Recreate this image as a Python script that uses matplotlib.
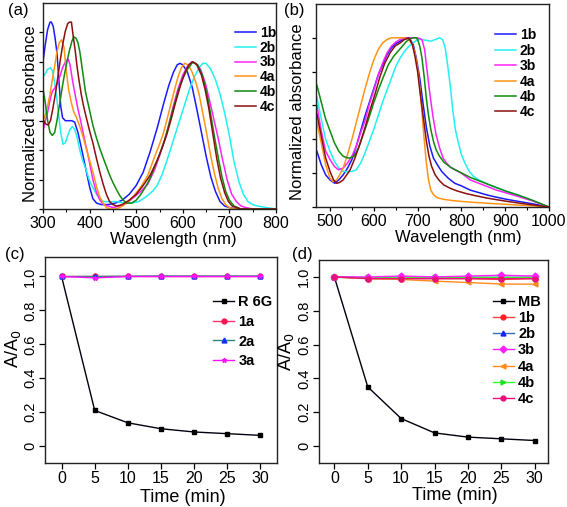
import matplotlib
matplotlib.use("Agg")
import matplotlib.pyplot as plt

plt.rcParams['font.family'] = ['Liberation Sans', 'DejaVu Sans']

# ---------------- Panel (a): normalized absorbance, 300-800 nm ----------------
a_wl_1b = [300, 305, 310, 315, 318, 322, 326, 330, 334, 338, 342, 348, 355, 362, 368, 375, 382, 388, 394, 400, 407,
           415, 425, 440, 455, 470, 485, 500, 515, 530, 545, 560, 570, 580, 588, 594, 600, 610, 620, 630, 640, 650,
           660, 670, 680, 690, 700, 715, 740, 800]
a_ab_1b = [1.00, 1.12, 1.22, 1.27, 1.27, 1.24, 1.16, 1.06, 0.88, 0.70, 0.62, 0.60, 0.60, 0.60, 0.59, 0.52, 0.42,
           0.33, 0.24, 0.15, 0.07, 0.04, 0.03, 0.03, 0.04, 0.06, 0.10, 0.16, 0.25, 0.39, 0.55, 0.73, 0.84, 0.93,
           0.98, 0.99, 0.98, 0.93, 0.83, 0.68, 0.52, 0.36, 0.22, 0.12, 0.05, 0.02, 0.01, 0.0, 0.0, 0.0]

a_wl_2b = [300, 305, 310, 316, 320, 325, 330, 334, 338, 343, 348, 353, 358, 363, 368, 373, 379, 385, 390, 395, 400,
           408, 415, 422, 430, 445, 460, 475, 490, 505, 520, 535, 545, 555, 565, 575, 585, 595, 605, 615, 625, 635,
           643, 650, 660, 670, 680, 690, 700, 710, 720, 730, 740, 750, 760, 780, 800]
a_ab_2b = [0.90, 0.92, 0.95, 0.96, 0.94, 0.86, 0.74, 0.63, 0.52, 0.44, 0.45, 0.50, 0.54, 0.56, 0.54, 0.49, 0.40,
           0.33, 0.29, 0.24, 0.19, 0.14, 0.10, 0.07, 0.05, 0.05, 0.05, 0.04, 0.04, 0.05, 0.08, 0.12, 0.16, 0.23,
           0.32, 0.42, 0.52, 0.62, 0.72, 0.82, 0.90, 0.96, 0.99, 0.99, 0.95, 0.88, 0.78, 0.65, 0.50, 0.32, 0.19,
           0.10, 0.05, 0.03, 0.02, 0.01, 0.0]

a_wl_3b = [300, 305, 310, 315, 320, 325, 330, 336, 342, 348, 354, 358, 364, 370, 375, 380, 386, 392, 397, 402, 407,
           415, 422, 430, 440, 450, 465, 480, 495, 510, 525, 540, 552, 565, 578, 590, 600, 610, 619, 628, 638, 648,
           658, 668, 676, 685, 695, 705, 715, 725, 735, 750, 800]
a_ab_3b = [0.53, 0.60, 0.66, 0.74, 0.80, 0.82, 0.85, 0.90, 0.96, 1.00, 1.02, 0.98, 0.86, 0.76, 0.68, 0.61, 0.52,
           0.43, 0.36, 0.28, 0.20, 0.11, 0.06, 0.03, 0.02, 0.01, 0.02, 0.04, 0.08, 0.12, 0.17, 0.27, 0.38, 0.51,
           0.68, 0.82, 0.91, 0.97, 1.00, 0.99, 0.95, 0.86, 0.73, 0.59, 0.48, 0.34, 0.20, 0.10, 0.05, 0.02, 0.01,
           0.0, 0.0]

a_wl_4a = [300, 305, 310, 315, 320, 325, 330, 335, 340, 345, 350, 355, 361, 366, 372, 379, 386, 393, 400, 408, 415,
           422, 429, 436, 445, 455, 465, 480, 495, 510, 525, 540, 550, 558, 567, 575, 583, 590, 597, 604, 612, 620,
           628, 635, 643, 652, 660, 668, 676, 684, 692, 700, 710, 720, 800]
a_ab_4a = [0.60, 0.64, 0.70, 0.78, 0.88, 0.97, 1.07, 1.13, 1.15, 1.10, 0.94, 0.81, 0.72, 0.66, 0.62, 0.56, 0.49,
           0.41, 0.33, 0.24, 0.15, 0.08, 0.04, 0.01, 0.0, 0.0, 0.01, 0.04, 0.09, 0.15, 0.23, 0.36, 0.44, 0.51,
           0.62, 0.72, 0.82, 0.90, 0.96, 0.99, 0.98, 0.93, 0.86, 0.78, 0.65, 0.50, 0.36, 0.24, 0.14, 0.07, 0.03,
           0.01, 0.0, 0.0, 0.0]

a_wl_4b = [300, 305, 310, 315, 320, 325, 330, 336, 342, 347, 352, 357, 362, 366, 371, 375, 379, 383, 387, 391, 395,
           400, 407, 415, 422, 430, 436, 443, 450, 458, 465, 472, 480, 490, 500, 510, 520, 530, 540, 550, 560, 570,
           580, 590, 600, 610, 622, 632, 642, 652, 660, 668, 676, 684, 692, 700, 710, 725, 800]
a_ab_4b = [0.82, 0.72, 0.60, 0.52, 0.50, 0.52, 0.60, 0.72, 0.84, 0.93, 1.01, 1.08, 1.14, 1.17, 1.16, 1.13, 1.07,
           0.98, 0.89, 0.80, 0.74, 0.67, 0.57, 0.48, 0.41, 0.34, 0.29, 0.23, 0.18, 0.13, 0.09, 0.06, 0.04, 0.04,
           0.06, 0.10, 0.15, 0.21, 0.29, 0.37, 0.46, 0.57, 0.69, 0.80, 0.89, 0.95, 1.00, 0.98, 0.91, 0.78, 0.64,
           0.49, 0.35, 0.22, 0.12, 0.06, 0.02, 0.0, 0.0]

a_wl_4c = [300, 305, 311, 316, 321, 327, 332, 337, 343, 348, 353, 357, 361, 365, 369, 373, 377, 382, 387, 393, 400,
           407, 415, 422, 429, 436, 443, 450, 458, 470, 485, 500, 515, 530, 545, 555, 565, 575, 585, 595, 605, 613,
           621, 630, 640, 648, 656, 665, 673, 681, 690, 698, 706, 715, 725, 800]
a_ab_4c = [0.61, 0.58, 0.57, 0.60, 0.68, 0.79, 0.90, 1.01, 1.13, 1.21, 1.26, 1.27, 1.27, 1.17, 1.08, 0.97, 0.88,
           0.78, 0.70, 0.62, 0.53, 0.45, 0.34, 0.25, 0.17, 0.10, 0.05, 0.03, 0.02, 0.03, 0.06, 0.10, 0.16, 0.23,
           0.33, 0.41, 0.50, 0.61, 0.73, 0.84, 0.93, 0.98, 1.00, 0.98, 0.91, 0.81, 0.68, 0.50, 0.34, 0.21, 0.11,
           0.05, 0.02, 0.01, 0.0, 0.0]

# ---------------- Panel (b): normalized absorbance, 470-1000 nm ----------------
b_wl_1b = [470, 480, 490, 500, 511, 520, 530, 540, 550, 560, 570, 580, 590, 600, 610, 620, 630, 640, 650, 660, 668,
           675, 683, 690, 697, 705, 712, 720, 728, 736, 745, 755, 770, 785, 800, 820, 840, 860, 880, 900, 930, 960,
           1000]
b_ab_1b = [0.33, 0.25, 0.19, 0.16, 0.14, 0.16, 0.19, 0.23, 0.28, 0.36, 0.45, 0.54, 0.62, 0.70, 0.78, 0.84, 0.90,
           0.94, 0.965, 0.98, 0.99, 1.0, 0.99, 0.96, 0.88, 0.76, 0.62, 0.47, 0.36, 0.29, 0.25, 0.21, 0.17, 0.14,
           0.125, 0.10, 0.085, 0.07, 0.058, 0.047, 0.033, 0.02, 0.0]

b_wl_2b = [470, 480, 490, 500, 510, 520, 530, 540, 550, 560, 570, 580, 590, 600, 610, 620, 630, 640, 650, 660, 670,
           680, 690, 700, 710, 720, 730, 740, 750, 757, 763, 768, 774, 780, 786, 793, 800, 808, 818, 828, 840, 860,
           880, 900, 930, 960, 1000]
b_ab_2b = [0.65, 0.52, 0.40, 0.33, 0.27, 0.23, 0.21, 0.21, 0.21, 0.22, 0.26, 0.32, 0.39, 0.46, 0.54, 0.62, 0.69,
           0.76, 0.83, 0.88, 0.92, 0.95, 0.97, 0.99, 0.99, 0.985, 0.98, 0.99, 1.0, 0.99, 0.94, 0.85, 0.73, 0.58,
           0.46, 0.38, 0.31, 0.26, 0.21, 0.18, 0.16, 0.135, 0.115, 0.095, 0.07, 0.04, 0.0]

b_wl_3b = [470, 480, 490, 500, 510, 519, 530, 540, 550, 560, 570, 580, 590, 600, 610, 620, 630, 640, 650, 660, 670,
           680, 690, 700, 710, 716, 721, 726, 731, 736, 742, 750, 758, 766, 775, 785, 800, 820, 840, 860, 880, 900,
           930, 960, 1000]
b_ab_3b = [0.60, 0.45, 0.33, 0.28, 0.24, 0.22, 0.23, 0.26, 0.30, 0.36, 0.44, 0.51, 0.61, 0.69, 0.78, 0.85, 0.91,
           0.95, 0.975, 0.99, 1.0, 1.0, 1.0, 1.0, 0.99, 0.93, 0.82, 0.71, 0.61, 0.52, 0.43, 0.35, 0.29, 0.26, 0.235,
           0.22, 0.20, 0.16, 0.14, 0.12, 0.10, 0.085, 0.062, 0.038, 0.0]

b_wl_4a = [470, 480, 490, 500, 507, 515, 522, 530, 540, 550, 560, 570, 580, 590, 600, 610, 620, 630, 640, 650, 660,
           670, 680, 688, 694, 700, 705, 710, 715, 720, 725, 730, 737, 745, 760, 780, 800, 830, 860, 900, 940, 970,
           1000]
b_ab_4a = [0.50, 0.38, 0.25, 0.17, 0.15, 0.16, 0.19, 0.23, 0.31, 0.40, 0.50, 0.60, 0.70, 0.79, 0.87, 0.93, 0.97,
           0.99, 1.0, 1.0, 1.0, 1.0, 0.99, 0.96, 0.91, 0.82, 0.71, 0.56, 0.40, 0.26, 0.16, 0.10, 0.07, 0.055, 0.045,
           0.038, 0.033, 0.027, 0.022, 0.016, 0.01, 0.006, 0.0]

b_wl_4b = [470, 480, 490, 500, 510, 520, 530, 540, 546, 555, 565, 576, 588, 599, 610, 622, 633, 645, 655, 665, 675,
           683, 690, 697, 700, 705, 710, 715, 720, 725, 730, 736, 742, 750, 760, 775, 790, 805, 820, 840, 860, 880,
           900, 930, 960, 1000]
b_ab_4b = [0.72, 0.62, 0.52, 0.45, 0.38, 0.33, 0.30, 0.29, 0.29, 0.30, 0.35, 0.43, 0.52, 0.61, 0.69, 0.77, 0.84,
           0.89, 0.92, 0.95, 0.98, 0.995, 1.0, 1.0, 0.99, 0.95, 0.88, 0.77, 0.64, 0.54, 0.46, 0.39, 0.34, 0.30,
           0.265, 0.235, 0.215, 0.195, 0.175, 0.155, 0.135, 0.115, 0.095, 0.07, 0.042, 0.0]

b_wl_4c = [470, 480, 490, 500, 508, 515, 522, 530, 538, 546, 557, 568, 580, 591, 603, 614, 625, 637, 648, 660, 670,
           680, 688, 694, 700, 705, 710, 715, 720, 726, 732, 740, 750, 760, 775, 790, 810, 830, 860, 900, 940, 970,
           1000]
b_ab_4c = [0.55, 0.42, 0.29, 0.21, 0.16, 0.14, 0.145, 0.16, 0.19, 0.22, 0.29, 0.37, 0.47, 0.57, 0.67, 0.77, 0.85,
           0.91, 0.95, 0.97, 0.99, 1.0, 0.96, 0.89, 0.80, 0.69, 0.59, 0.49, 0.39, 0.30, 0.24, 0.19, 0.155, 0.13,
           0.11, 0.095, 0.08, 0.068, 0.052, 0.035, 0.02, 0.01, 0.0]

spec_labels = ['1b', '2b', '3b', '4a', '4b', '4c']
spec_colors = ['#1a1aff', '#22f0f0', '#ff22ff', '#ff9416', '#108a10', '#8b1010']

# ---------------- Panel (c), (d): photostability ----------------
time_min = [0, 5, 10, 15, 20, 25, 30]

c_labels = ['R 6G', '1a', '2a', '3a']
c_r6g = [1.0, 0.21, 0.137, 0.102, 0.083, 0.073, 0.063]
c_1a = [1.0, 1.0, 1.0, 1.0, 1.0, 1.0, 1.0]
c_2a = [1.0, 1.0, 1.002, 1.003, 1.003, 1.003, 1.003]
c_3a = [1.0, 0.992, 1.0, 1.0, 1.0, 1.0, 1.0]

d_labels = ['MB', '1b', '2b', '3b', '4a', '4b', '4c']
d_mb = [1.0, 0.35, 0.163, 0.078, 0.053, 0.043, 0.033]
d_1b = [1.0, 0.99, 0.99, 0.99, 0.99, 0.985, 0.99]
d_2b = [1.0, 0.995, 0.998, 0.998, 0.998, 0.998, 0.998]
d_3b = [1.0, 1.0, 1.005, 1.0, 1.005, 1.01, 1.005]
d_4a = [1.0, 0.99, 0.985, 0.975, 0.967, 0.958, 0.957]
d_4b = [1.0, 1.0, 1.0, 1.0, 1.0, 1.0, 1.0]
d_4c = [1.0, 0.99, 0.99, 0.99, 0.99, 0.99, 0.99]

W, H = 567, 507
fig = plt.figure(figsize=(W / 100, H / 100), dpi=100)


def add_ax(l, t, r, b):
    return fig.add_axes([l / W, 1 - b / H, (r - l) / W, (b - t) / H])


TICK_FS = 11.5
LAB_FS = 12
LEG_FS = 10


def style(ax):
    for s in ax.spines.values():
        s.set_linewidth(1.0)
        s.set_color('#222222')
    ax.tick_params(direction='out', length=3, width=0.9, labelsize=TICK_FS, pad=2)
    ax.tick_params(which='minor', direction='out', length=2, width=0.8)


# (a)
axa = add_ax(43, 3, 276, 209)
a_wl = [a_wl_1b, a_wl_2b, a_wl_3b, a_wl_4a, a_wl_4b, a_wl_4c]
a_ab = [a_ab_1b, a_ab_2b, a_ab_3b, a_ab_4a, a_ab_4b, a_ab_4c]
for wl, ab, lab, col in zip(a_wl, a_ab, spec_labels, spec_colors):
    axa.plot(wl, ab, color=col, lw=1.1, label=lab)
axa.set_xlim(300, 800)
axa.set_ylim(0, 1.4)
axa.set_xticks([300, 400, 500, 600, 700, 800])
axa.set_xticks([350, 450, 550, 650, 750], minor=True)
axa.set_yticks([0, 0.2, 0.4, 0.6, 0.8, 1.0, 1.2])
axa.set_yticklabels([])
style(axa)
axa.set_xlabel('Wavelength (nm)', fontsize=LAB_FS, va='center', ha='center')
axa.xaxis.set_label_coords(0.56, -0.148)
axa.set_ylabel('Normalized absorbance', fontsize=LAB_FS, va='center', ha='center')
axa.yaxis.set_label_coords(-0.052, 0.461)
axa.legend(loc='upper left', bbox_to_anchor=(0.824, 0.888), frameon=False, borderpad=0, borderaxespad=0,
           handlelength=1.5, handletextpad=0.3, labelspacing=0.05, prop={'weight': 'bold', 'size': LEG_FS})
fig.text(18 / W, 1 - 11 / H, '(a)', fontsize=12, ha='center', va='center')

# (b)
axb = add_ax(316, 4, 549, 207)
b_wl = [b_wl_1b, b_wl_2b, b_wl_3b, b_wl_4a, b_wl_4b, b_wl_4c]
b_ab = [b_ab_1b, b_ab_2b, b_ab_3b, b_ab_4a, b_ab_4b, b_ab_4c]
for wl, ab, lab, col in zip(b_wl, b_ab, spec_labels, spec_colors):
    axb.plot(wl, ab, color=col, lw=1.1, label=lab)
axb.set_xlim(468, 1000)
axb.set_ylim(0, 1.2)
axb.set_xticks([500, 600, 700, 800, 900, 1000])
axb.set_xticks([550, 650, 750, 850, 950], minor=True)
axb.set_yticks([0, 0.2, 0.4, 0.6, 0.8, 1.0])
axb.set_yticklabels([])
style(axb)
axb.set_xlabel('Wavelength (nm)', fontsize=LAB_FS, va='center', ha='center')
axb.xaxis.set_label_coords(0.609, -0.15)
axb.set_ylabel('Normalized absorbance', fontsize=LAB_FS, va='center', ha='center')
axb.yaxis.set_label_coords(-0.079, 0.468)
axb.legend(loc='upper left', bbox_to_anchor=(0.768, 0.88), frameon=False, borderpad=0, borderaxespad=0,
           handlelength=1.5, handletextpad=0.3, labelspacing=0.1, prop={'weight': 'bold', 'size': LEG_FS})
fig.text(294 / W, 1 - 11 / H, '(b)', fontsize=12, ha='center', va='center')

ytick_vals = [0, 0.2, 0.4, 0.6, 0.8, 1.0]
ytick_text = ['0', '0.2', '0.4', '0.6', '0.8', '1.0']

# (c)
axc = add_ax(45, 257, 277, 463)
c_series = [c_r6g, c_1a, c_2a, c_3a]
c_styles = [dict(color='#000010', marker='s', mfc='black', mec='black'),
            dict(color='#ff3070', marker='o', mfc='#ff1050', mec='#ff1050'),
            dict(color='#2a8a7a', marker='^', mfc='#1030ff', mec='#1030ff'),
            dict(color='#ff10ff', marker='*', mfc='#ff10ff', mec='#ff10ff')]
for ys, lab, st in zip(c_series, c_labels, c_styles):
    axc.plot(time_min, ys, lw=1.0, ms=3.5, label=lab, **st)
axc.set_xlim(-2.5, 32.5)
axc.set_ylim(-0.1, 1.115)
axc.set_xticks(time_min)
axc.set_yticks(ytick_vals)
axc.set_yticklabels(ytick_text, rotation=90, va='center')
style(axc)
axc.tick_params(length=4)
axc.tick_params(axis='y', labelsize=10.5, pad=1.5)
axc.set_xlabel('Time (min)', fontsize=LAB_FS + 1, va='center', ha='center')
axc.xaxis.set_label_coords(0.593, -0.168)
axc.set_ylabel('A/A$_0$', fontsize=LAB_FS + 1, va='center', ha='center')
axc.yaxis.set_label_coords(-0.14, 0.553)
axc.legend(loc='upper left', bbox_to_anchor=(0.724, 0.816), frameon=False, borderpad=0, borderaxespad=0,
           handlelength=1.45, handletextpad=0.3, labelspacing=0.4, prop={'weight': 'bold', 'size': LEG_FS + 0.5})
fig.text(15 / W, 1 - 255 / H, '(c)', fontsize=12, ha='center', va='center')

# (d)
axd = add_ax(319, 260, 548, 463)
d_series = [d_mb, d_1b, d_2b, d_4a, d_4b, d_3b, d_4c]
d_order = ['MB', '1b', '2b', '4a', '4b', '3b', '4c']
d_style_map = {
    'MB': dict(color='#000010', marker='s', mfc='black', mec='black'),
    '1b': dict(color='#ff4040', marker='o', mfc='#ff2020', mec='#ff2020'),
    '2b': dict(color='#3070c0', marker='^', mfc='#1020ff', mec='#1020ff'),
    '3b': dict(color='#ff20ff', marker='D', mfc='#ff20ff', mec='#ff20ff'),
    '4a': dict(color='#ff8c1a', marker='<', mfc='#ff8c1a', mec='#ff8c1a'),
    '4b': dict(color='#30ff30', marker='>', mfc='#20e020', mec='#20e020'),
    '4c': dict(color='#e8107a', marker='o', mfc='#e8107a', mec='#e8107a'),
}
handles = {}
for ys, lab in zip(d_series, d_order):
    ln, = axd.plot(time_min, ys, lw=1.0, ms=3.5, label=lab, **d_style_map[lab])
    handles[lab] = ln
axd.set_xlim(-2.3, 32)
axd.set_ylim(-0.1, 1.1)
axd.set_xticks(time_min)
axd.set_yticks(ytick_vals)
axd.set_yticklabels(ytick_text, rotation=90, va='center')
style(axd)
axd.tick_params(length=4)
axd.tick_params(axis='y', labelsize=10.5, pad=1.5)
axd.set_xlabel('Time (min)', fontsize=LAB_FS + 1, va='center', ha='center')
axd.xaxis.set_label_coords(0.593, -0.16)
axd.set_ylabel('A/A$_0$', fontsize=LAB_FS + 1, va='center', ha='center')
axd.yaxis.set_label_coords(-0.145, 0.547)
axd.legend([handles[k] for k in d_labels], d_labels, loc='upper left', bbox_to_anchor=(0.758, 0.828),
           frameon=False, borderpad=0, borderaxespad=0, handlelength=1.45, handletextpad=0.3, labelspacing=0.15,
           prop={'weight': 'bold', 'size': LEG_FS + 0.5})
fig.text(302 / W, 1 - 254 / H, '(d)', fontsize=12, ha='center', va='center')

fig.savefig('out.png', dpi=100)
